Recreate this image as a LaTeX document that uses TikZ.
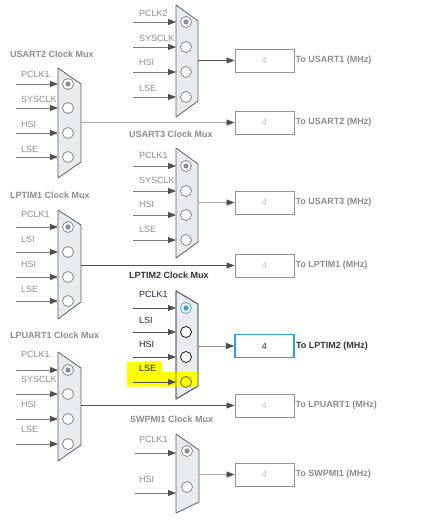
\documentclass[tikz,border=0pt]{standalone}
\usepackage{fontspec}
\setmainfont{Liberation Sans}
\usetikzlibrary{arrows.meta,positioning}
\definecolor{muxfill}{HTML}{E9ECEF}
\definecolor{muxline}{HTML}{5A5F64}
\definecolor{pinline}{HTML}{767B80}
\definecolor{txtgray}{HTML}{8C8C8C}
\definecolor{txtnavy}{HTML}{16264A}
\definecolor{txtdark}{HTML}{333333}
\definecolor{boxline}{HTML}{8F9499}
\definecolor{boxtxt}{HTML}{B3C7DB}
\definecolor{selblue}{HTML}{2FA0DA}
\definecolor{wiredark}{HTML}{505050}
\definecolor{wiremid}{HTML}{8A8A8A}
\definecolor{wirelight}{HTML}{ABABAB}
\definecolor{inwire}{HTML}{7C7C7C}
\definecolor{hilite}{HTML}{FFFF00}
\tikzset{
  muxbody/.style={draw=muxline,fill=muxfill,line width=0.8pt,line join=round},
  muxtitle/.style={anchor=base west,inner sep=0pt,text=txtgray,font=\bfseries\fontsize{9}{10}\selectfont},
  muxlabel/.style={anchor=base west,inner sep=0pt,text=txtgray,font=\fontsize{9}{10}\selectfont},
  pin/.style={circle,draw=pinline,fill=white,line width=0.7pt,minimum size=11pt,inner sep=0pt},
  pinon/.style={pin,path picture={\fill[txtgray] (path picture bounding box.center) circle (2.6pt);}},
  inarrow/.style={draw=inwire,line width=0.8pt,-{Triangle[length=8pt,width=6pt,color=wiredark]}},
  outarrow/.style={line width=0.8pt,-{Triangle[length=8pt,width=6pt,color=wiredark]}},
  outbox/.style={rectangle,draw=boxline,line width=0.9pt,minimum width=59pt,minimum height=23pt,inner sep=0pt,text=boxtxt,font=\fontsize{9}{10}\selectfont},
  outlabel/.style={inner sep=0pt,text=txtgray,font=\bfseries\fontsize{9}{10}\selectfont}
}
\begin{document}
\begin{tikzpicture}[x=1pt,y=-1pt]
\useasboundingbox (0,0) rectangle (421,523);
\node[outbox] (bu1) at (264.5,60.5) {4};
\node[outbox] (bu2) at (264.5,122.5) {4};
\node[outbox] (bu3) at (264.5,202.5) {4};
\node[outbox] (blp1) at (264.5,265.5) {4};
\node[outbox,draw=selblue,line width=1.6pt,text=txtdark] (blp2) at (264.5,346) {4};
\node[outbox] (blpu1) at (264.5,405.5) {4};
\node[outbox] (bsw1) at (264.5,474.5) {4};
\node[outlabel,right=1pt of bu1] {To USART1 (MHz)};
\node[outlabel,right=1pt of bu2] {To USART2 (MHz)};
\node[outlabel,right=1pt of bu3] {To USART3 (MHz)};
\node[outlabel,right=1pt of blp1] {To LPTIM1 (MHz)};
\node[outlabel,right=1pt of blp2,text=txtdark] {To LPTIM2 (MHz)};
\node[outlabel,right=1pt of blpu1] {To LPUART1 (MHz)};
\node[outlabel,right=1pt of bsw1] {To SWPMI1 (MHz)};
\coordinate (u1nw) at (176,5);
\coordinate (u1ne) at (198,21);
\coordinate (u1se) at (198,101);
\coordinate (u1sw) at (176,117);
\draw[muxbody] (u1nw) -- (u1ne) -- (u1se) -- (u1sw) -- cycle;
\node[pinon] (u1p1) at (186,22) {};
\node[pin] (u1p2) at (186,47) {};
\node[pin] (u1p3) at (186,72) {};
\node[pin] (u1p4) at (186,97) {};
\node[muxlabel] at (139,16) {PCLK2};
\node[muxlabel] at (139,41) {SYSCLK};
\node[muxlabel] at (139,65.5) {HSI};
\node[muxlabel] at (139,91) {LSE};
\draw[inarrow] (133,0 |- u1p1) -- (u1nw |- u1p1);
\draw[inarrow] (133,0 |- u1p2) -- (u1nw |- u1p2);
\draw[inarrow] (133,0 |- u1p3) -- (u1nw |- u1p3);
\draw[inarrow] (133,0 |- u1p4) -- (u1nw |- u1p4);
\draw[outarrow,wiredark] (u1ne |- bu1) -- (bu1);
\node[muxtitle] at (10,57.3) {USART2 Clock Mux};
\coordinate (u2nw) at (58,68);
\coordinate (u2ne) at (81,84);
\coordinate (u2se) at (81,162);
\coordinate (u2sw) at (58,178);
\draw[muxbody] (u2nw) -- (u2ne) -- (u2se) -- (u2sw) -- cycle;
\node[pinon] (u2p1) at (68,84) {};
\node[pin] (u2p2) at (68,108) {};
\node[pin] (u2p3) at (68,133) {};
\node[pin] (u2p4) at (68,157) {};
\node[muxlabel] at (21,77.3) {PCLK1};
\node[muxlabel] at (21,102.3) {SYSCLK};
\node[muxlabel] at (21,127.3) {HSI};
\node[muxlabel] at (21,152.3) {LSE};
\draw[inarrow] (16,0 |- u2p1) -- (u2nw |- u2p1);
\draw[inarrow] (16,0 |- u2p2) -- (u2nw |- u2p2);
\draw[inarrow] (16,0 |- u2p3) -- (u2nw |- u2p3);
\draw[inarrow] (16,0 |- u2p4) -- (u2nw |- u2p4);
\draw[outarrow,wirelight] (u2ne |- bu2) -- (bu2);
\node[muxtitle] at (129,137.3) {USART3 Clock Mux};
\coordinate (u3nw) at (176,148);
\coordinate (u3ne) at (198,164);
\coordinate (u3se) at (198,242);
\coordinate (u3sw) at (176,258);
\draw[muxbody] (u3nw) -- (u3ne) -- (u3se) -- (u3sw) -- cycle;
\node[pinon] (u3p1) at (186,166) {};
\node[pin] (u3p2) at (186,191) {};
\node[pin] (u3p3) at (186,215) {};
\node[pin] (u3p4) at (186,240) {};
\node[muxlabel] at (139,158.3) {PCLK1};
\node[muxlabel] at (139,183.3) {SYSCLK};
\node[muxlabel] at (139,207.3) {HSI};
\node[muxlabel] at (139,232.3) {LSE};
\draw[inarrow] (133,0 |- u3p1) -- (u3nw |- u3p1);
\draw[inarrow] (133,0 |- u3p2) -- (u3nw |- u3p2);
\draw[inarrow] (133,0 |- u3p3) -- (u3nw |- u3p3);
\draw[inarrow] (133,0 |- u3p4) -- (u3nw |- u3p4);
\draw[outarrow,wirelight] (u3ne |- bu3) -- (bu3);
\node[muxtitle] at (10,198.3) {LPTIM1 Clock Mux};
\coordinate (lp1nw) at (58,210);
\coordinate (lp1ne) at (81,225);
\coordinate (lp1se) at (81,302);
\coordinate (lp1sw) at (58,319);
\draw[muxbody] (lp1nw) -- (lp1ne) -- (lp1se) -- (lp1sw) -- cycle;
\node[pinon] (lp1p1) at (68,227) {};
\node[pin] (lp1p2) at (68,252) {};
\node[pin] (lp1p3) at (68,277) {};
\node[pin] (lp1p4) at (68,301) {};
\node[muxlabel] at (21,217.3) {PCLK1};
\node[muxlabel] at (21,242.3) {LSI};
\node[muxlabel] at (21,267.3) {HSI};
\node[muxlabel] at (21,292.3) {LSE};
\draw[inarrow] (16,0 |- lp1p1) -- (lp1nw |- lp1p1);
\draw[inarrow] (16,0 |- lp1p2) -- (lp1nw |- lp1p2);
\draw[inarrow] (16,0 |- lp1p3) -- (lp1nw |- lp1p3);
\draw[inarrow] (16,0 |- lp1p4) -- (lp1nw |- lp1p4);
\draw[outarrow,wiredark] (lp1ne |- blp1) -- (blp1);
\node[muxtitle,text=txtdark] at (129,278.3) {LPTIM2 Clock Mux};
\coordinate (lp2nw) at (176,291);
\coordinate (lp2ne) at (198,304);
\coordinate (lp2se) at (198,386);
\coordinate (lp2sw) at (176,399);
\draw[muxbody] (lp2nw) -- (lp2ne) -- (lp2se) -- (lp2sw) -- cycle;
\fill[hilite] (127,362) -- (162,361) -- (162,372) -- (198,372) -- (198,386.5) -- (127,386.5) -- cycle;
\draw[muxbody,fill=none] (lp2nw) -- (lp2ne) -- (lp2se) -- (lp2sw) -- cycle;
\node[pin,draw=selblue,path picture={\fill[selblue] (path picture bounding box.center) circle (2.6pt);}] (lp2p1) at (186,308) {};
\node[pin,draw=black] (lp2p2) at (186,332) {};
\node[pin,draw=black] (lp2p3) at (186,357) {};
\node[pin,draw=wiredark,fill=none] (lp2p4) at (186,382) {};
\node[muxlabel,text=txtnavy] at (139,297.5) {PCLK1};
\node[muxlabel,text=txtnavy] at (139,323.2) {LSI};
\node[muxlabel,text=txtnavy] at (139,347.5) {HSI};
\node[muxlabel,text=txtnavy] at (139,371.5) {LSE};
\draw[inarrow,draw=wiredark] (133,0 |- lp2p1) -- (lp2nw |- lp2p1);
\draw[inarrow,draw=wiredark] (133,0 |- lp2p2) -- (lp2nw |- lp2p2);
\draw[inarrow,draw=wiredark] (133,0 |- lp2p3) -- (lp2nw |- lp2p3);
\draw[inarrow,draw=wiredark] (133,0 |- lp2p4) -- (lp2nw |- lp2p4);
\draw[outarrow,wiremid] (lp2ne |- blp2) -- (blp2);
\node[muxtitle] at (10,338.3) {LPUART1 Clock Mux};
\coordinate (lpu1nw) at (58,352);
\coordinate (lpu1ne) at (81,368);
\coordinate (lpu1se) at (81,445);
\coordinate (lpu1sw) at (58,461);
\draw[muxbody] (lpu1nw) -- (lpu1ne) -- (lpu1se) -- (lpu1sw) -- cycle;
\node[pinon] (lpu1p1) at (68,370) {};
\node[pin] (lpu1p2) at (68,394) {};
\node[pin] (lpu1p3) at (68,419) {};
\node[pin] (lpu1p4) at (68,444) {};
\node[muxlabel] at (21,357.3) {PCLK1};
\node[muxlabel] at (21,382.3) {SYSCLK};
\node[muxlabel] at (21,407.3) {HSI};
\node[muxlabel] at (21,432.3) {LSE};
\draw[inarrow] (16,0 |- lpu1p1) -- (lpu1nw |- lpu1p1);
\draw[inarrow] (16,0 |- lpu1p2) -- (lpu1nw |- lpu1p2);
\draw[inarrow] (16,0 |- lpu1p3) -- (lpu1nw |- lpu1p3);
\draw[inarrow] (16,0 |- lpu1p4) -- (lpu1nw |- lpu1p4);
\draw[outarrow,wiredark] (lpu1ne |- blpu1) -- (blpu1);
\node[muxtitle] at (130,422.3) {SWPMI1 Clock Mux};
\coordinate (sw1nw) at (176,434);
\coordinate (sw1ne) at (199,450);
\coordinate (sw1se) at (199,502);
\coordinate (sw1sw) at (176,513);
\draw[muxbody] (sw1nw) -- (sw1ne) -- (sw1se) -- (sw1sw) -- cycle;
\node[pinon] (sw1p1) at (187,451) {};
\node[pin] (sw1p2) at (187,487) {};
\node[muxlabel] at (139,442.3) {PCLK1};
\node[muxlabel] at (139,482.3) {HSI};
\draw[inarrow] (135,453) -- (sw1nw |- 135,453);
\draw[inarrow] (135,493) -- (sw1nw |- 135,493);
\draw[outarrow,wirelight] (sw1ne |- bsw1) -- (bsw1);
\end{tikzpicture}
\end{document}
